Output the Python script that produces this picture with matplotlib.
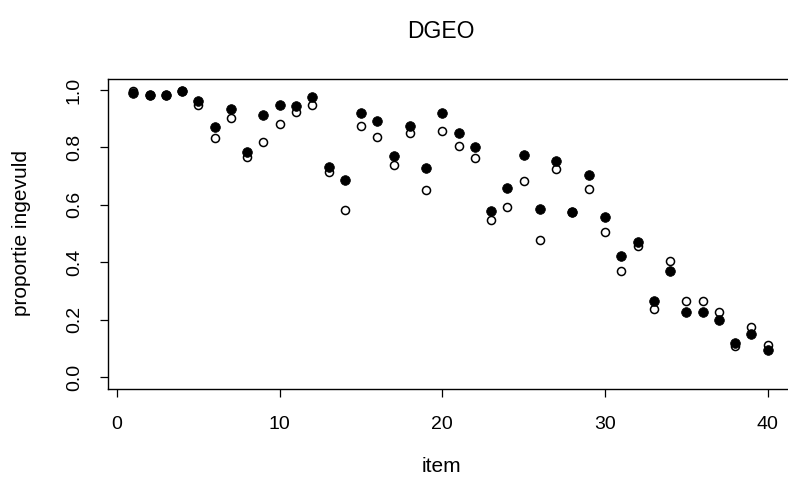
import numpy as np
import matplotlib
matplotlib.use("Agg")
import matplotlib.pyplot as plt

plt.rcParams['font.family'] = ['Liberation Sans', 'DejaVu Sans']

items = np.arange(1, 41)
# filled circles
prop_filled = [0.988, 0.982, 0.982, 0.998, 0.963, 0.872, 0.934, 0.785, 0.914, 0.949,
               0.945, 0.977, 0.731, 0.688, 0.920, 0.893, 0.769, 0.873, 0.729, 0.920,
               0.849, 0.803, 0.580, 0.659, 0.773, 0.586, 0.752, 0.574, 0.704, 0.557,
               0.423, 0.472, 0.264, 0.371, 0.225, 0.225, 0.197, 0.118, 0.149, 0.093]
# open circles
prop_open = [0.995, 0.982, 0.982, 0.998, 0.948, 0.833, 0.901, 0.766, 0.818, 0.880,
             0.924, 0.948, 0.716, 0.582, 0.873, 0.837, 0.739, 0.850, 0.650, 0.856,
             0.804, 0.763, 0.548, 0.594, 0.684, 0.476, 0.723, 0.574, 0.656, 0.505,
             0.370, 0.458, 0.236, 0.404, 0.266, 0.266, 0.226, 0.107, 0.176, 0.113]
xticks = [0, 10, 20, 30, 40]
yticks = [0.0, 0.2, 0.4, 0.6, 0.8, 1.0]

W, H = 788, 482
fig = plt.figure(figsize=(W / 100, H / 100), dpi=100)
left, right, top, bottom = 108, 793, 78.5, 388.5
ax = fig.add_axes([left / W, 1 - bottom / H, (right - left) / W, (bottom - top) / H])

ax.plot(items, prop_open, 'o', ms=5.8, mfc='white', mec='black', mew=1.1, ls='none')
ax.plot(items, prop_filled, 'o', ms=7, mfc='black', mec='black', mew=0.5, ls='none')

ax.set_xlim(1 - 0.04 * 39, 40 + 0.04 * 39)
ax.set_ylim(-0.04, 1.04)
ax.set_xticks(xticks)
ax.set_xticklabels([str(t) for t in xticks])
ax.set_yticks(yticks)
ax.set_yticklabels([f"{t:.1f}" for t in yticks], rotation=90, va='center')
ax.tick_params(direction='out', length=6, width=0.9, labelsize=14, color='black')
ax.tick_params(axis='x', pad=14)
ax.tick_params(axis='y', pad=12)
for s in ax.spines.values():
    s.set_linewidth(1.0)
ax.spines['right'].set_visible(False)

fig.text(441 / W, 1 - 32 / H, "DGEO", ha='center', va='center', fontsize=16.5)
fig.text(441 / W, 1 - 466 / H, "item", ha='center', va='center', fontsize=15)
fig.text(22 / W, 1 - 233 / H, "proportie ingevuld", ha='center', va='center',
         rotation=90, fontsize=15)

fig.savefig("out.png", dpi=100)
